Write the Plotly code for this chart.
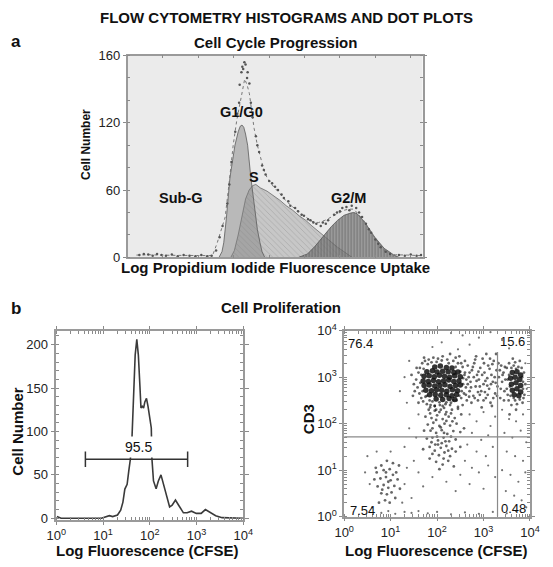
import plotly.graph_objects as go

FONT = "Liberation Sans, Arial, sans-serif"

# ---------------- Panel a : cell cycle (channel scale 0-1000) ----------------
g1_x = [310, 320, 326, 335, 347, 356, 364, 375, 382, 388, 394, 400, 407, 418, 431, 440, 449, 456, 465]
g1_y = [0, 5, 13, 35, 71, 88, 100, 112, 117, 118, 116, 110, 100, 71, 42, 25, 13, 5, 0]

s_x = [350, 362, 375, 388, 400, 412, 424, 435, 450, 473, 495, 516, 538, 560, 582, 604, 625, 647, 670, 691, 712, 734, 761]
s_y = [0, 6, 20, 38, 52, 60, 64, 65, 62, 59, 55, 51, 46, 42, 37, 33, 28, 23, 18, 13, 9, 5, 0]

g2_x = [580, 610, 636, 664, 691, 712, 734, 756, 767, 778, 789, 805, 821, 838, 854, 870, 887, 903, 920]
g2_y = [0, 3, 10, 19, 27.5, 33, 37.5, 39.5, 40, 39, 36, 31, 24.6, 18, 13, 8, 5, 2, 0]

env_x = [30, 70, 150, 230, 288, 304, 318, 331, 345, 358, 370, 383, 390, 397, 405, 413, 421, 429, 440,
         451, 462, 473, 495, 516, 538, 560, 582, 604, 625, 647, 669, 691, 712, 734, 750, 767, 784, 800,
         816, 832, 849, 865, 886, 908, 950, 996]
env_y = [2, 2.3, 1.8, 1.5, 1.5, 13, 24, 36, 68, 100, 122, 141, 152, 159, 154, 146, 130, 115, 100,
         88, 78, 71, 63, 57, 50, 45, 40, 36, 32, 31, 33, 36, 39, 42, 43, 43, 38, 33,
         26, 20, 13, 7, 4, 2.3, 2, 1.5]

dot_x = [396, 389, 386, 407, 380, 413, 300, 312, 322, 338, 345, 352, 365, 372, 378, 392, 400, 405, 418,
         424, 435, 440, 446, 456, 462, 468, 480, 490, 500, 510, 522, 530, 545, 552, 568, 578, 590, 598,
         612, 620, 630, 640, 655, 662, 672, 680, 700, 710, 720, 728, 742, 752, 760, 775, 785, 795, 808,
         818, 826, 840, 850, 858, 875, 890, 920, 940, 960, 980, 995,
         40, 55, 70, 85, 100, 115, 130, 150, 170, 190, 210, 230, 250, 270, 285]
dot_y = [174, 170, 165, 165, 154, 155, 6, 18, 28, 48, 65, 85, 112, 128, 138, 168, 172, 160, 138,
         125, 108, 100, 94, 82, 78, 74, 68, 66, 63, 60, 56, 53, 50, 46, 44, 41, 38, 37,
         34, 33, 31, 30, 28, 31, 30, 33, 38, 40, 41, 44, 45, 42, 46, 44, 40, 36, 30,
         25, 22, 16, 12, 9, 5, 3, 2, 1.5, 2.5, 1.5, 2,
         2, 3, 2.5, 1.5, 3, 2, 1.5, 2.5, 1, 2, 1.5, 1, 2, 1, 1.5]

a_tickvals = [0, 60, 120, 180]
a_ticktext = ["0", "60", "120", "160"]

# ---------------- Panel b left : CFSE histogram (log10 fluorescence) ----------------
cfse_log = [0.014, 0.103, 0.965, 1.068, 1.136, 1.207, 1.31, 1.378, 1.426, 1.467, 1.516, 1.55, 1.585,
            1.62, 1.653, 1.688, 1.723, 1.756, 1.791, 1.812, 1.839, 1.868, 1.895, 1.93, 1.963, 1.998,
            2.033, 2.046, 2.08, 2.136, 2.184, 2.24, 2.293, 2.363, 2.425, 2.479, 2.55, 2.618, 2.72,
            2.80, 2.893, 2.996, 3.10, 3.19, 3.273, 3.41, 3.548, 3.82, 3.996]
cfse_count = [1.9, 0, 0, 1.9, 3.0, 1.9, 3.7, 9.3, 18.6, 33.6, 39.2, 54, 68,
              93, 151, 188, 206, 188, 151, 127, 129, 127, 134, 138, 129, 114,
              104, 69, 43, 34, 43, 50, 39, 24, 13, 15, 21, 15, 6.3,
              6.3, 8.2, 5.6, 5.6, 10, 7.5, 3, 0.7, 0, 0]
gate_x = [4.2, 646]
gate_y = 68
gate_label = "95.5"

# ---------------- Panel b right : CFSE vs CD3 dot plot (log10 values) ----------------
core_lx = [1.95, 2.07, 2.2, 2.32,
           1.78, 1.9, 2.0, 2.12, 2.24, 2.36, 2.45,
           1.72, 1.83, 1.94, 2.05, 2.16, 2.27, 2.38, 2.5,
           1.7, 1.81, 1.92, 2.03, 2.14, 2.25, 2.36, 2.47,
           1.72, 1.83, 1.95, 2.06, 2.17, 2.28, 2.4, 2.5,
           1.76, 1.88, 1.99, 2.1, 2.21, 2.33, 2.44,
           1.84, 1.96, 2.08, 2.2, 2.32, 2.42,
           1.98, 2.12, 2.26, 2.38,
           3.62, 3.72, 3.8, 3.58, 3.68, 3.78, 3.6, 3.7, 3.8, 3.62, 3.72, 3.8, 3.66, 3.76]
core_ly = [3.22, 3.24, 3.21, 3.2,
           3.12, 3.14, 3.11, 3.13, 3.12, 3.1, 3.11,
           3.02, 3.03, 3.01, 3.04, 3.02, 3.0, 3.03, 3.01,
           2.92, 2.91, 2.93, 2.9, 2.92, 2.94, 2.91, 2.92,
           2.82, 2.83, 2.81, 2.82, 2.84, 2.8, 2.82, 2.83,
           2.72, 2.71, 2.73, 2.72, 2.7, 2.73, 2.71,
           2.62, 2.63, 2.61, 2.62, 2.6, 2.63,
           2.53, 2.52, 2.54, 2.52,
           3.1, 3.12, 3.05, 2.98, 3.0, 2.95, 2.85, 2.88, 2.82, 2.72, 2.75, 2.68, 2.62, 2.6]

halo_lx = [1.55, 1.58, 1.6, 1.62, 1.63, 1.66, 1.68, 1.7, 1.74, 1.78, 1.82, 1.86, 1.92, 1.95, 2.02, 2.06,
           2.12, 2.18, 2.22, 2.3, 2.35, 2.42, 2.45, 2.52, 2.55, 2.58, 2.6, 2.62, 2.63, 1.5, 1.45, 1.48,
           2.68, 2.7, 2.66,
           2.72, 2.75, 2.78, 2.8, 2.83, 2.86, 2.88, 2.9, 2.93, 2.95, 2.98, 3.0, 3.02, 3.05, 3.08, 3.1,
           3.12, 3.15, 3.17, 3.2, 3.22, 3.25, 3.28, 3.3, 3.33, 3.36, 3.38, 3.4, 3.43, 3.45, 2.74, 2.84,
           2.96, 3.06, 3.18, 3.27, 2.79, 2.92, 3.03, 3.14,
           3.5, 3.54, 3.55, 3.58, 3.65, 3.68, 3.75, 3.82, 3.85, 3.86, 3.5, 3.52, 3.87, 3.84, 3.72, 3.6,
           3.78, 3.63, 3.7, 3.56,
           1.82, 1.95, 2.08, 2.2, 2.32, 2.45, 1.75, 1.88, 2.0, 2.12, 2.25, 2.38, 2.52, 1.8, 1.92, 2.05,
           2.16, 2.28, 2.42, 1.72, 1.86, 1.98, 2.1, 2.22, 2.35, 2.5, 1.78, 1.9, 2.02, 2.14, 2.26, 2.4,
           1.84, 1.96, 2.08, 2.2, 2.32, 1.9, 2.04, 2.16, 2.28, 1.98, 2.12, 2.24, 2.05, 2.36, 1.7, 2.5,
           2.58,
           0.8, 0.92, 1.05, 0.7, 0.85, 0.98, 1.12, 0.65, 0.78, 0.9, 1.0, 1.15, 0.72, 0.85, 0.95, 1.08,
           1.2, 0.8, 0.92, 1.02, 0.88, 0.98, 1.1, 0.75, 0.95, 0.9, 1.05, 0.82, 0.68, 1.18]
halo_ly = [2.95, 2.78, 3.1, 2.65, 3.2, 2.55, 3.3, 2.48, 3.35, 2.42, 3.38, 2.4, 3.42, 2.38, 3.4, 2.4,
           3.45, 2.42, 3.38, 2.45, 3.35, 2.5, 3.3, 2.55, 3.22, 2.65, 3.1, 2.78, 2.95, 2.85, 3.05, 2.6,
           3.0, 2.7, 3.25,
           2.9, 3.15, 2.6, 3.3, 2.8, 3.05, 2.5, 2.95, 3.2, 2.7, 3.4, 2.85, 3.1, 2.55, 2.98, 3.25,
           2.75, 2.45, 3.05, 2.9, 3.35, 2.65, 3.15, 2.8, 3.0, 2.55, 3.25, 2.9, 3.1, 2.7, 2.45, 3.45,
           2.35, 3.5, 2.38, 3.5, 3.0, 2.62, 2.68, 3.4,
           3.2, 2.5, 3.3, 2.6, 3.25, 2.5, 3.22, 3.2, 2.9, 2.55, 2.75, 2.95, 3.1, 2.45, 2.42, 2.4,
           3.35, 3.4, 2.3, 2.2,
           2.3, 2.28, 2.3, 2.25, 2.3, 2.32, 2.15, 2.12, 2.18, 2.1, 2.15, 2.12, 2.2, 1.98, 2.02, 1.95,
           2.0, 1.96, 2.0, 1.85, 1.85, 1.8, 1.86, 1.78, 1.84, 1.82, 1.68, 1.7, 1.64, 1.7, 1.62, 1.66,
           1.5, 1.55, 1.48, 1.52, 1.46, 1.35, 1.32, 1.38, 1.3, 1.18, 1.12, 1.2, 1.02, 1.08, 1.45, 1.5,
           1.9,
           1.1, 1.2, 1.15, 0.95, 1.0, 1.02, 0.95, 0.8, 0.82, 0.85, 0.78, 0.8, 0.65, 0.68, 0.62, 0.66,
           0.6, 0.5, 0.48, 0.52, 0.35, 0.3, 0.4, 0.3, 0.75, 0.95, 0.9, 0.58, 1.05, 1.1]

extra_lx = [1.64, 1.66, 1.69, 1.71, 1.75, 1.8, 1.84, 1.88, 1.99, 2.1, 2.25, 2.4, 2.5, 2.56, 2.56, 2.53,
            2.48, 2.35, 2.2, 2.05, 1.9, 1.78, 1.56, 1.52, 1.6, 1.72, 2.28, 2.48, 2.6, 2.64, 2.55, 2.45,
            1.98, 2.15, 1.85, 2.62, 2.66, 2.59, 2.52, 2.4,
            2.7, 2.73, 2.77, 2.81, 2.85, 2.89, 2.92, 2.97, 3.0, 3.04, 3.09, 3.13, 3.16, 3.21, 3.24, 3.29,
            3.32, 3.37, 3.41, 3.44, 2.82, 3.01, 3.19, 2.69, 2.88, 3.08, 3.26, 3.35, 3.47, 3.46,
            3.6, 3.7, 3.83, 3.57, 3.85, 3.65, 3.78, 3.55, 3.88, 3.68, 3.9, 3.52,
            1.95, 2.12, 2.28, 1.85, 2.05, 2.18, 2.3, 1.98, 2.2, 2.33, 2.08, 1.9, 2.15, 2.3, 2.0, 2.1,
            1.88, 2.24, 1.95, 2.14, 1.84, 2.4, 2.02, 2.18]
extra_ly = [2.88, 3.05, 2.7, 3.18, 2.58, 3.28, 2.5, 3.32, 3.33, 3.36, 3.3, 3.22, 3.12, 2.98, 2.85, 2.7,
            2.6, 2.5, 2.46, 2.46, 2.48, 2.6, 3.2, 2.7, 2.45, 3.42, 3.5, 3.45, 3.35, 2.5, 2.4, 2.36,
            2.3, 2.34, 2.35, 2.62, 2.85, 3.05, 3.3, 3.42,
            3.1, 2.78, 3.22, 2.55, 2.92, 3.12, 2.8, 3.05, 2.5, 2.92, 2.62, 3.18, 2.85, 2.55, 3.0, 2.6,
            3.3, 2.75, 3.05, 2.5, 3.38, 3.3, 3.28, 2.58, 2.68, 2.82, 2.88, 3.15, 2.95, 3.22,
            3.2, 3.18, 3.0, 2.8, 2.75, 2.55, 2.52, 3.05, 2.62, 3.32, 2.85, 2.62,
            2.38, 2.38, 2.4, 2.22, 2.25, 2.2, 2.22, 2.08, 2.06, 2.05, 1.92, 1.9, 1.8, 1.72, 1.72, 1.58,
            1.6, 1.42, 1.42, 1.25, 1.25, 1.4, 1.55, 1.62]

sparse_lx = [2.3, 2.55, 2.9, 3.15, 2.1, 2.7, 3.4, 1.9, 3.55, 2.45, 1.4, 1.3, 1.2, 1.35, 3.9, 3.93,
             2.7, 2.85, 3.0, 3.15, 3.25, 2.75, 2.95, 3.1, 2.65, 2.85, 3.05, 3.2, 2.6, 2.75, 2.9, 3.1,
             3.25, 2.5, 2.7, 3.0, 2.4, 2.2, 1.9, 1.6, 1.7, 1.5, 1.45, 1.3, 1.55, 1.4, 1.6,
             3.4, 3.55, 3.7, 3.85, 3.45, 3.62, 3.8, 3.92, 3.5, 3.68, 3.85, 3.4, 3.58, 3.75, 3.9, 3.48,
             3.66, 3.82, 3.92,
             0.8, 0.95, 1.1, 1.3, 1.45, 1.6, 1.8, 2.0, 2.3, 2.6, 2.9, 3.2, 3.5, 3.7,
             0.5, 0.55, 0.6, 1.3, 1.35, 0.45, 1.25, 0.7, 1.0]
sparse_ly = [3.95, 3.9, 3.85, 3.97, 3.75, 3.7, 3.8, 3.65, 3.62, 3.6, 3.35, 3.0, 2.7, 2.45, 3.3, 2.75,
             2.2, 2.05, 2.25, 1.95, 2.15, 1.8, 1.65, 1.75, 1.55, 1.4, 1.3, 1.5, 1.2, 1.05, 0.95, 1.1,
             0.85, 0.9, 0.7, 0.6, 0.55, 0.75, 0.85, 0.95, 0.65, 1.2, 0.4, 1.5, 1.7, 1.9, 2.2,
             2.3, 2.1, 2.05, 2.2, 1.8, 1.7, 1.85, 1.6, 1.4, 1.3, 1.2, 1.0, 0.9, 0.75, 0.95, 0.55,
             0.45, 0.35, 0.2,
             0.08, 0.12, 0.06, 0.1, 0.08, 0.12, 0.07, 0.1, 0.05, 0.09, 0.06, 0.1, 0.07, 0.12,
             1.3, 0.7, 0.2, 0.7, 1.05, 0.95, 0.3, 1.4, 1.4]

quad_x = 2000      # CFSE gate
quad_y = 52        # CD3 gate
quad_top = 3500
quad_labels = ["76.4", "15.6", "7.54", "0.48"]

log_ticks = [1, 10, 100, 1000, 10000]
log_ticktext = ["10<sup>0</sup>", "10<sup>1</sup>", "10<sup>2</sup>", "10<sup>3</sup>", "10<sup>4</sup>"]

# ---------------- figure ----------------
W, H = 553, 567
def px(x):
    return x / W
def py(y):
    return 1 - y / H

fig = go.Figure()

# panel a
fig.add_trace(go.Scatter(x=s_x, y=s_y, xaxis="x", yaxis="y", mode="lines", fill="tozeroy",
                         line=dict(color="#6a6a6a", width=0.8),
                         fillpattern=dict(shape="\\", bgcolor="rgba(196,196,196,0.9)", fgcolor="#909090",
                                          size=4, solidity=0.2)))
fig.add_trace(go.Scatter(x=g1_x, y=g1_y, xaxis="x", yaxis="y", mode="lines", fill="tozeroy",
                         line=dict(color="#5a5a5a", width=0.8), fillcolor="rgba(125,125,125,0.45)"))
fig.add_trace(go.Scatter(x=g2_x, y=g2_y, xaxis="x", yaxis="y", mode="lines", fill="tozeroy",
                         line=dict(color="#555555", width=0.8),
                         fillpattern=dict(shape="|", bgcolor="rgba(115,115,115,0.68)", fgcolor="#4a4a4a",
                                          size=3, solidity=0.3)))
fig.add_trace(go.Scatter(x=env_x, y=env_y, xaxis="x", yaxis="y", mode="lines",
                         line=dict(color="#777777", width=1, dash="dot")))
fig.add_trace(go.Scatter(x=dot_x, y=dot_y, xaxis="x", yaxis="y", mode="markers",
                         marker=dict(color="#555555", size=2.5)))

# panel b left
fig.add_trace(go.Scatter(x=[10 ** v for v in cfse_log], y=cfse_count, xaxis="x2", yaxis="y2",
                         mode="lines", line=dict(color="#3a3a3a", width=1.6)))
fig.add_trace(go.Scatter(x=gate_x, y=[gate_y, gate_y], xaxis="x2", yaxis="y2", mode="lines+markers",
                         line=dict(color="#333333", width=1.5),
                         marker=dict(symbol="line-ns", size=11, line=dict(width=1.5, color="#333333"))))

# panel b right
def pow10(vals):
    return [10 ** v for v in vals]

fig.add_trace(go.Scatter(x=pow10(sparse_lx), y=pow10(sparse_ly), xaxis="x3", yaxis="y3",
                         mode="markers", marker=dict(color="#000000", size=2.2, opacity=0.55)))
fig.add_trace(go.Scatter(x=pow10(halo_lx), y=pow10(halo_ly), xaxis="x3", yaxis="y3",
                         mode="markers", marker=dict(color="#000000", size=2.8, opacity=0.6)))
fig.add_trace(go.Scatter(x=pow10(extra_lx), y=pow10(extra_ly), xaxis="x3", yaxis="y3",
                         mode="markers", marker=dict(color="#000000", size=2.8, opacity=0.6)))
fig.add_trace(go.Scatter(x=pow10(core_lx), y=pow10(core_ly), xaxis="x3", yaxis="y3",
                         mode="markers", marker=dict(color="#111111", size=5.5, opacity=0.85)))
fig.add_trace(go.Scatter(x=[quad_x, quad_x], y=[1, quad_top], xaxis="x3", yaxis="y3", mode="lines",
                         line=dict(color="#8a8a8a", width=1.2)))
fig.add_trace(go.Scatter(x=[1, 10000], y=[quad_y, quad_y], xaxis="x3", yaxis="y3", mode="lines",
                         line=dict(color="#8a8a8a", width=1.2)))

axis_common = dict(showline=True, linecolor="#9a9a9a", linewidth=1.5, mirror="allticks", showgrid=False,
                   zeroline=False, tickcolor="#8a8a8a", tickfont=dict(family=FONT, size=13, color="#222"))

fig.update_layout(
    width=W, height=H, margin=dict(l=0, r=0, t=0, b=0), showlegend=False,
    paper_bgcolor="white", plot_bgcolor="white", font=dict(family=FONT, color="#111"),
    xaxis=dict(domain=[px(122), px(428)], range=[0, 1000], anchor="y", showticklabels=False,
               ticks="inside", tick0=0, dtick=120, ticklen=3, **axis_common),
    yaxis=dict(domain=[py(256), py(48)], range=[0, 180], anchor="x", tickvals=a_tickvals, ticktext=a_ticktext,
               ticks="outside", ticklen=3,
               minor=dict(ticks="inside", dtick=20, ticklen=3, tickcolor="#8a8a8a"), **axis_common),
    xaxis2=dict(domain=[px(48), px(242)], type="log", range=[0, 4], anchor="y2", tickvals=log_ticks,
                ticktext=log_ticktext, ticks="outside", ticklen=3,
                minor=dict(ticks="inside", dtick="D1", ticklen=3, tickcolor="#8a8a8a"), **axis_common),
    yaxis2=dict(domain=[py(526.8), py(331.7)], range=[-2, 216], anchor="x2", tickvals=[0, 50, 100, 150, 200],
                ticks="outside", ticklen=4,
                minor=dict(ticks="inside", dtick=10, ticklen=3, tickcolor="#8a8a8a"), **axis_common),
    xaxis3=dict(domain=[px(346.7), px(539.5)], type="log", range=[0, 4], anchor="y3", tickvals=log_ticks,
                ticktext=log_ticktext, ticks="outside", ticklen=3,
                minor=dict(ticks="inside", dtick="D1", ticklen=3, tickcolor="#8a8a8a"), **axis_common),
    yaxis3=dict(domain=[py(523.3), py(331.7)], type="log", range=[0, 4], anchor="x3", tickvals=log_ticks,
                ticktext=log_ticktext, ticks="outside", ticklen=3,
                minor=dict(ticks="inside", dtick="D1", ticklen=3, tickcolor="#8a8a8a"), **axis_common),
)

fig.add_shape(type="rect", xref="x domain", yref="y domain", x0=0, x1=1, y0=0, y1=1,
              fillcolor="#ebebeb", line=dict(width=0), layer="below")

def bold(t):
    return "<b>" + t + "</b>"

ann = []
def add(text, x, y, size, angle=0, **kw):
    ann.append(dict(text=text, x=x, y=y, xref="paper", yref="paper", showarrow=False,
                    xanchor="center", yanchor="middle", textangle=angle,
                    font=dict(family=FONT, size=size, color="#111"), **kw))

add(bold("FLOW CYTOMETRY HISTOGRAMS AND DOT PLOTS"), px(287), py(8.5), 15)
add(bold("a"), px(6.5), py(34), 17)
add(bold("Cell Cycle Progression"), px(275), py(34.5), 15)
add(bold("Cell Number"), px(79), py(140), 12, angle=-90)
add(bold("Log Propidium Iodide Fluorescence Uptake"), px(275), py(266), 15)
add(bold("G1/G0"), px(240), py(106), 14.5)
add(bold("S"), px(253.5), py(173), 14.5)
add(bold("Sub-G"), px(177.5), py(195), 14.5)
add(bold("G2/M"), px(351.5), py(195), 14.5)
add(bold("b"), px(6.5), py(309), 17)
add(bold("Cell Proliferation"), px(281), py(308), 15)
add(bold("Cell Number"), px(8), py(435), 15, angle=-90)
add(bold("Log Fluorescence (CFSE)"), px(143), py(558), 15)
add(bold("Log Fluorescence (CFSE)"), px(443), py(558), 15)
add(bold("CD3"), px(309), py(423), 15, angle=-90)
add(quad_labels[0], px(364), py(345), 13)
add(quad_labels[1], px(521.7), py(342.5), 13)
add(quad_labels[2], px(365.5), py(516.7), 13)
add(quad_labels[3], px(522), py(515), 13)

ann.append(dict(text=gate_label, x=1.756, y=gate_y + 1.5, xref="x2", yref="y2", showarrow=False,
                xanchor="center", yanchor="bottom", bgcolor="white", borderpad=2,
                font=dict(family=FONT, size=14, color="#111")))

fig.update_layout(annotations=ann)
# the page's default 8px body margin would push the 553x567 figure off the window; remove it
fig.write_html("out.html", config={"displayModeBar": False},
               post_script="document.body.style.margin='0';document.body.style.overflow='hidden';")
